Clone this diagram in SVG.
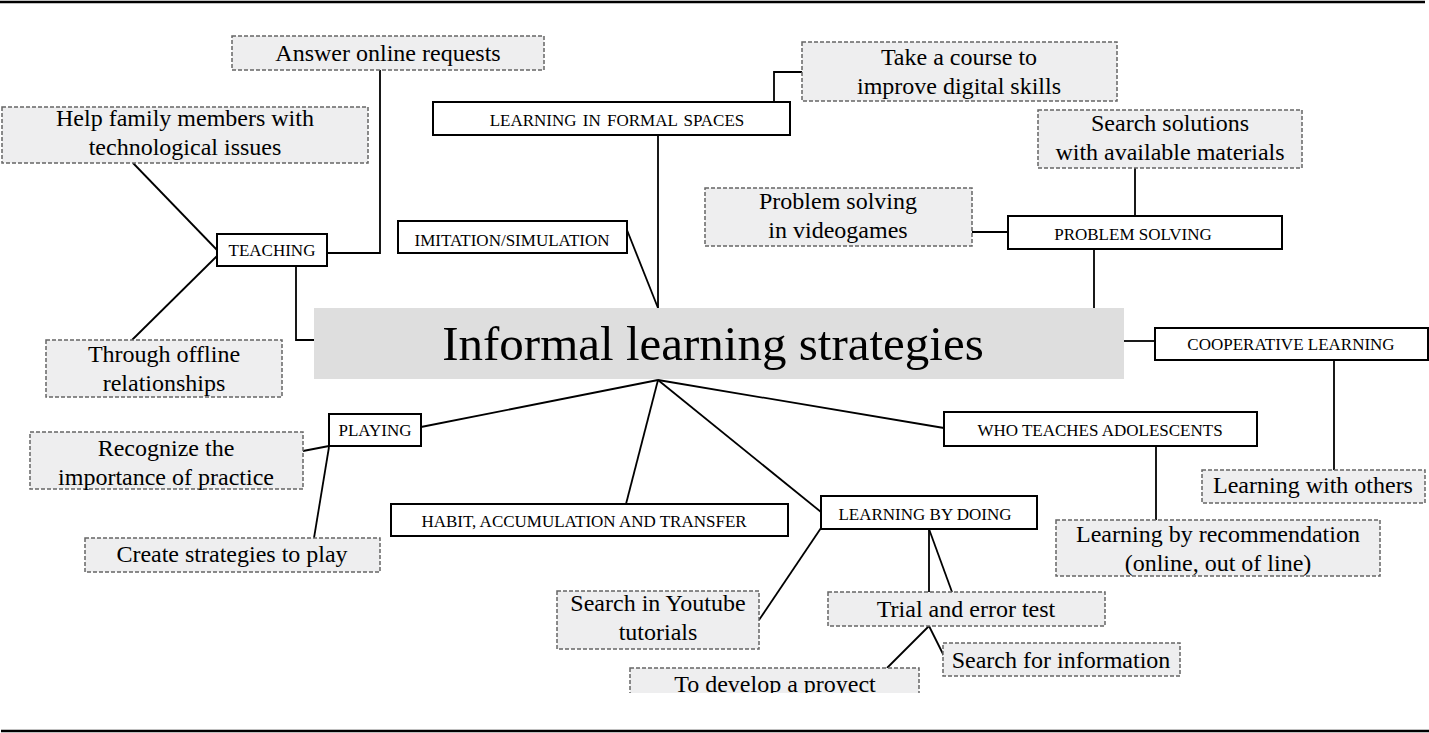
<svg xmlns="http://www.w3.org/2000/svg" width="1429" height="733" viewBox="0 0 1429 733">
<defs>
<style>
.d{fill:#eeeeef;stroke:#666;stroke-width:1.5;stroke-dasharray:4 2}
.s{fill:#fff;stroke:#000;stroke-width:2}
.c{fill:#dedede;stroke:none}
.t{font-family:"Liberation Serif","Times New Roman",serif;font-size:24px;fill:#000;text-anchor:middle}
.l{font-family:"Liberation Serif","Times New Roman",serif;font-size:17px;fill:#000;text-anchor:middle}
.big{font-family:"Liberation Serif","Times New Roman",serif;font-size:49px;fill:#000;text-anchor:middle}
.e{fill:none;stroke:#000;stroke-width:1.8}
.rule{stroke:#000;stroke-width:2.5}
</style>
<clipPath id="cut"><rect x="0" y="0" width="1429" height="693"/></clipPath>
</defs>
<rect width="1429" height="733" fill="#fff"/>
<line class="rule" x1="0" y1="2" x2="1425" y2="2"/>
<line class="rule" x1="1" y1="731" x2="1429" y2="731"/>
<g id="connectors">
<polyline class="e" points="380,70 380,253 327,253"/>
<line class="e" x1="133" y1="163" x2="217" y2="250"/>
<line class="e" x1="217" y1="256" x2="132" y2="340"/>
<polyline class="e" points="296,266 296,340 314,340"/>
<polyline class="e" points="774,102 774,72 802,72"/>
<line class="e" x1="658" y1="135" x2="658" y2="308"/>
<line class="e" x1="627" y1="230" x2="658" y2="308"/>
<line class="e" x1="972" y1="232" x2="1008" y2="232"/>
<line class="e" x1="1135" y1="168" x2="1135" y2="216"/>
<line class="e" x1="1094" y1="249" x2="1094" y2="308"/>
<line class="e" x1="1124" y1="341" x2="1155" y2="341"/>
<line class="e" x1="1334" y1="360" x2="1334" y2="470"/>
<line class="e" x1="658" y1="380" x2="421" y2="427"/>
<line class="e" x1="658" y1="380" x2="944" y2="428"/>
<line class="e" x1="658" y1="380" x2="626" y2="504"/>
<line class="e" x1="658" y1="380" x2="821" y2="512"/>
<line class="e" x1="1156" y1="446" x2="1156" y2="520"/>
<line class="e" x1="329" y1="446" x2="303" y2="451"/>
<line class="e" x1="329" y1="447" x2="314" y2="538"/>
<line class="e" x1="821" y1="528" x2="759" y2="620"/>
<line class="e" x1="929" y1="529" x2="929" y2="592"/>
<line class="e" x1="929" y1="529" x2="952" y2="592"/>
<line class="e" x1="929" y1="626" x2="887" y2="668"/>
<line class="e" x1="929" y1="626" x2="944" y2="656"/>
</g>
<g id="answer"><rect class="d" x="232" y="36" width="312" height="34"/><text class="t" x="388" y="61">Answer online requests</text></g>
<g id="help"><rect class="d" x="2" y="107" width="366" height="56"/><text class="t" x="185" y="126">Help family members with</text><text class="t" x="185" y="155">technological issues</text></g>
<g id="teaching"><rect class="s" x="217" y="234" width="110" height="32"/><text class="l" x="272" y="256">TEACHING</text></g>
<g id="offline"><rect class="d" x="46" y="340" width="236" height="57"/><text class="t" x="164" y="362">Through offline</text><text class="t" x="164" y="391">relationships</text></g>
<g id="formal"><rect class="s" x="433" y="102" width="357" height="33"/><text class="l" x="617" y="126" word-spacing="2">LEARNING IN FORMAL SPACES</text></g>
<g id="course"><rect class="d" x="802" y="42" width="315" height="59"/><text class="t" x="959" y="65">Take a course to</text><text class="t" x="959" y="94">improve digital skills</text></g>
<g id="imitation"><rect class="s" x="398" y="221" width="229" height="32"/><text class="l" x="512" y="246">IMITATION/SIMULATION</text></g>
<g id="videogames"><rect class="d" x="705" y="188" width="267" height="58"/><text class="t" x="838" y="209">Problem solving</text><text class="t" x="838" y="238">in videogames</text></g>
<g id="searchsol"><rect class="d" x="1038" y="110" width="264" height="58"/><text class="t" x="1170" y="131">Search solutions</text><text class="t" x="1170" y="160">with available materials</text></g>
<g id="problem"><rect class="s" x="1008" y="216" width="274" height="33"/><text class="l" x="1133" y="240">PROBLEM SOLVING</text></g>
<g id="center"><rect class="c" x="314" y="308" width="810" height="71"/><text class="big" x="713" y="360">Informal learning strategies</text></g>
<g id="coop"><rect class="s" x="1155" y="328" width="273" height="32"/><text class="l" x="1291" y="350">COOPERATIVE LEARNING</text></g>
<g id="others"><rect class="d" x="1202" y="470" width="223" height="33"/><text class="t" x="1313" y="493">Learning with others</text></g>
<g id="who"><rect class="s" x="944" y="412" width="313" height="34"/><text class="l" x="1100" y="436">WHO TEACHES ADOLESCENTS</text></g>
<g id="recommend"><rect class="d" x="1056" y="520" width="324" height="56"/><text class="t" x="1218" y="542">Learning by recommendation</text><text class="t" x="1218" y="571">(online, out of line)</text></g>
<g id="playing"><rect class="s" x="329" y="414" width="92" height="32"/><text class="l" x="375" y="436">PLAYING</text></g>
<g id="recognize"><rect class="d" x="30" y="432" width="273" height="57"/><text class="t" x="166" y="456">Recognize the</text><text class="t" x="166" y="485">importance of practice</text></g>
<g id="create"><rect class="d" x="85" y="538" width="295" height="34"/><text class="t" x="232" y="562">Create strategies to play</text></g>
<g id="habit"><rect class="s" x="391" y="504" width="397" height="32"/><text class="l" x="584" y="527">HABIT, ACCUMULATION AND TRANSFER</text></g>
<g id="doing"><rect class="s" x="821" y="496" width="216" height="33"/><text class="l" x="925" y="520">LEARNING BY DOING</text></g>
<g id="youtube"><rect class="d" x="557" y="591" width="202" height="58"/><text class="t" x="658" y="611">Search in Youtube</text><text class="t" x="658" y="640">tutorials</text></g>
<g id="trial"><rect class="d" x="828" y="592" width="277" height="34"/><text class="t" x="966" y="617">Trial and error test</text></g>
<g id="searchinfo"><rect class="d" x="943" y="643" width="237" height="33"/><text class="t" x="1061" y="668">Search for information</text></g>
<g id="develop" clip-path="url(#cut)"><rect class="d" x="630" y="668" width="289" height="40"/><text class="t" x="775" y="692">To develop a proyect</text></g>
</svg>
